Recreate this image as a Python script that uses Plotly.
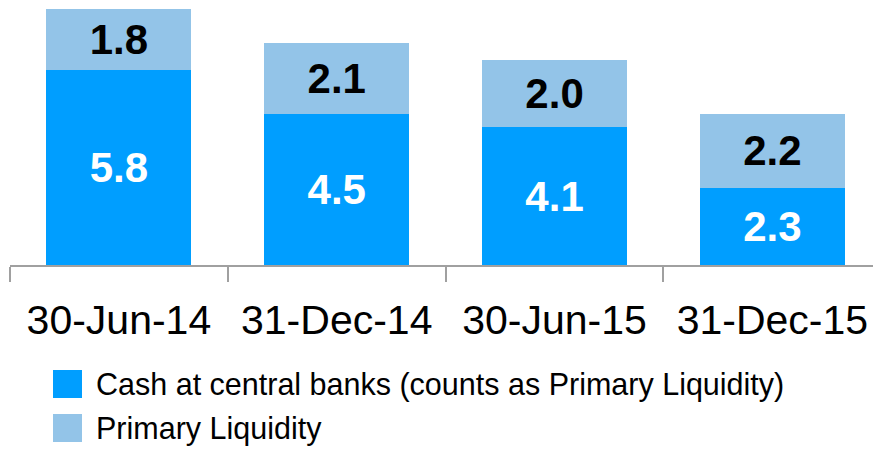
import plotly.graph_objects as go

categories = ["30-Jun-14", "31-Dec-14", "30-Jun-15", "31-Dec-15"]
cash_central = [5.8, 4.5, 4.1, 2.3]
primary_liquidity = [1.8, 2.1, 2.0, 2.2]
series_names = ["Cash at central banks (counts as Primary Liquidity)", "Primary Liquidity"]

DARK = "#009EFF"
LIGHT = "#93C4E8"
FONT = "Liberation Sans, Arial, sans-serif"

fig = go.Figure()
fig.add_trace(go.Bar(
    x=categories, y=cash_central, name=series_names[0],
    marker=dict(color=DARK, line=dict(width=0)),
    text=[f"{v:.1f}" for v in cash_central], textposition="inside",
    insidetextanchor="middle", textangle=0, constraintext="none",
    textfont=dict(family=FONT, size=42, color="white", weight="bold"),
    showlegend=False,
))
fig.add_trace(go.Bar(
    x=categories, y=primary_liquidity, name=series_names[1],
    marker=dict(color=LIGHT, line=dict(width=0)),
    text=[f"{v:.1f}" for v in primary_liquidity], textposition="inside",
    insidetextanchor="middle", textangle=0, constraintext="none",
    textfont=dict(family=FONT, size=42, color="black", weight="bold"),
    showlegend=False,
))

W, H = 873, 450
PW, PH = 863, 265
fig.update_layout(
    width=W, height=H, barmode="stack", bargap=0.334,
    margin=dict(l=10, r=0, t=0, b=185, autoexpand=False),
    paper_bgcolor="white", plot_bgcolor="white",
    font=dict(family=FONT, color="black"),
    xaxis=dict(
        range=[-0.5, 3.462], showline=True, linecolor="#A0A0A0", linewidth=1.5,
        ticks="outside", tickson="boundaries", ticklen=15, tickcolor="#A0A0A0", tickwidth=1.5,
        tickangle=0, automargin=False, ticklabelstandoff=18,
        tickfont=dict(family=FONT, size=41, color="black"), showgrid=False,
    ),
    yaxis=dict(range=[0, 7.875], visible=False, showgrid=False, zeroline=False),
)

# legend drawn manually (large swatches)
legend_rows = [(370, 398, series_names[0], DARK), (414, 442, series_names[1], LIGHT)]
for y0, y1, label, col in legend_rows:
    fig.add_shape(type="rect", xref="paper", yref="paper",
                  x0=(53 - 10) / PW, x1=(82 - 10) / PW,
                  y0=(PH - y1) / PH, y1=(PH - y0) / PH,
                  fillcolor=col, line=dict(width=0))
    fig.add_annotation(xref="paper", yref="paper", x=(94 - 10) / PW,
                       y=(PH - (y0 + y1) / 2) / PH, xanchor="left", yanchor="middle",
                       text=label, showarrow=False,
                       font=dict(family=FONT, size=30.5, color="black"))

fig.write_html(
    "out.html",
    config={"displayModeBar": False},
    post_script="document.body.style.margin='0';document.body.style.overflow='hidden';",
)
